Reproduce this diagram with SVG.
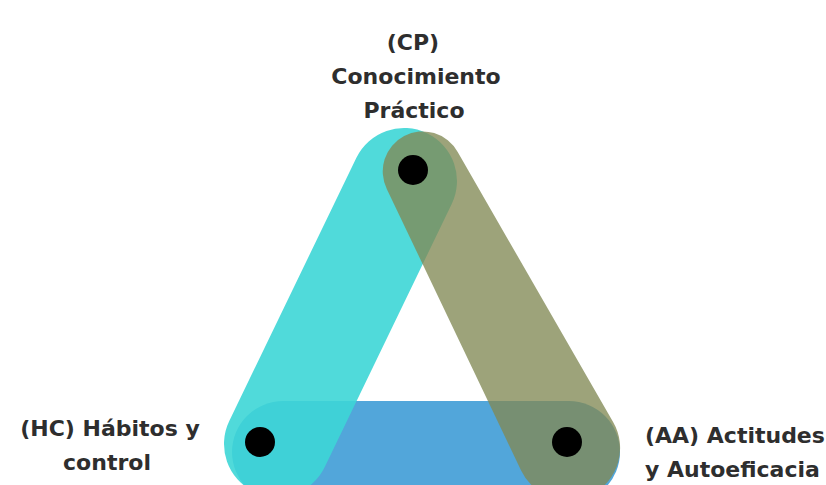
<svg xmlns="http://www.w3.org/2000/svg" width="826" height="485" viewBox="0 0 826 485">
  <style>
    .lbl { font-family: "DejaVu Sans", "Liberation Sans", sans-serif; font-weight: bold; font-size: 22px; fill: #2e2e2e; }
    .mid { text-anchor: middle; }
    .dot { fill: #000000; }
  </style>
  <rect width="826" height="485" fill="#ffffff"/>
  <g id="connectors">
    <line id="band-bottom" x1="283" y1="452" x2="569" y2="452" stroke="#52a6da" stroke-width="102" stroke-linecap="round"/>
    <line id="band-left" x1="404" y1="181" x2="277" y2="444" stroke="#3dd6d6" stroke-opacity="0.9" stroke-width="106" stroke-linecap="round"/>
    <path id="band-right" d="M386.9,189.2 A40,40 0 0 1 457.7,152 L613.1,422.1 A52,52 0 1 1 521.1,470.4 Z" fill="#818955" fill-opacity="0.78"/>
  </g>
  <g id="node-cp">
    <circle class="dot" cx="413" cy="170" r="15"/>
    <text class="lbl mid" x="413" y="50">(CP)</text>
    <text class="lbl mid" x="416" y="84">Conocimiento</text>
    <text class="lbl mid" x="414" y="118">Práctico</text>
  </g>
  <g id="node-hc">
    <circle class="dot" cx="260" cy="442" r="15"/>
    <text class="lbl mid" x="110" y="436">(HC) Hábitos y</text>
    <text class="lbl mid" x="107" y="470">control</text>
  </g>
  <g id="node-aa">
    <circle class="dot" cx="567" cy="442" r="15"/>
    <text class="lbl" x="645" y="443">(AA) Actitudes</text>
    <text class="lbl" x="645" y="477">y Autoeficacia</text>
  </g>
</svg>
